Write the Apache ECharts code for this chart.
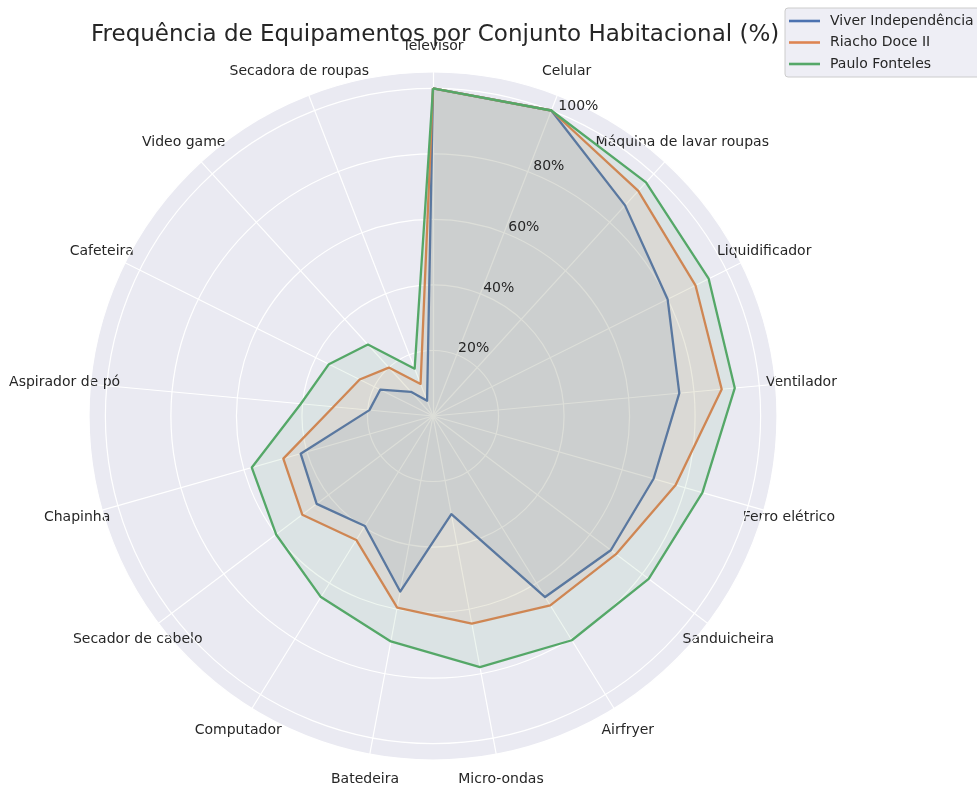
<!DOCTYPE html>
<html>
<head>
<meta charset="utf-8">
<script src="https://cdn.jsdelivr.net/npm/echarts@6/dist/echarts.min.js"></script>
<style>
html,body{margin:0;padding:0;background:#fff;}
#chart{width:977px;height:785px;}
</style>
</head>
<body>
<div id="chart"></div>
<script>
const categories = ['Televisor','Celular','Máquina de lavar roupas','Liquidificador','Ventilador','Ferro elétrico','Sanduicheira','Airfryer','Micro-ondas','Batedeira','Computador','Secador de cabelo','Chapinha','Aspirador de pó','Cafeteira','Video game','Secadora de roupas'];
const viverIndependencia = [100,100,87,80,75.5,70,68,65,30.5,54.5,39.5,44.5,42,19.5,18,10,5];
const riachoDoceII       = [100,100,93,89.5,88.5,77,70,68,64.5,59.5,44.5,50,47.5,30.5,25,20,10.5];
const pauloFonteles      = [100,100,96.5,94,92.5,85.5,82.5,80.5,78,70,65,60,57.5,40.5,35.5,29.5,15.5];
const seriesNames = ['Viver Independência','Riacho Doce II','Paulo Fonteles'];
const radialTicks = [20,40,60,80,100];
const titleText = 'Frequência de Equipamentos por Conjunto Habitacional (%)';

const colors = ['#4C72B0','#DD8452','#55A868'];
const RMAX = 105;
const CX = 433, CY = 416, R = 344;
const textColor = '#262626';

// ECharts radar runs counter-clockwise; reorder so categories run clockwise from top
const order = [0];
for (let i = categories.length - 1; i >= 1; i--) order.push(i);
const reorder = arr => order.map(i => arr[i]);

const allSeries = [viverIndependencia, riachoDoceII, pauloFonteles];

const chart = echarts.init(document.getElementById('chart'), null, {renderer:'canvas'});
chart.setOption({
  backgroundColor: '#ffffff',
  animation: false,
  title: {
    text: titleText,
    left: 91, top: 24, padding: 0,
    textStyle: {fontFamily: 'DejaVu Sans', fontSize: 23, fontWeight: 'normal', color: textColor}
  },
  legend: {
    data: seriesNames,
    orient: 'vertical',
    left: 785, top: 8,
    padding: [5, 12, 5, 4],
    itemGap: 5.5,
    itemWidth: 31, itemHeight: 2.6,
    icon: 'rect',
    backgroundColor: 'rgba(234,234,242,0.8)',
    borderColor: '#cccccc', borderWidth: 1, borderRadius: 3,
    textStyle: {fontFamily: 'DejaVu Sans', fontSize: 14, color: textColor, lineHeight: 16, padding: [0,0,0,5]}
  },
  radar: {
    center: [CX, CY],
    radius: R,
    startAngle: 90,
    shape: 'circle',
    splitNumber: 1,
    z: 0,
    indicator: reorder(categories).map(n => ({name: n, min: 0, max: RMAX})),
    axisName: {fontFamily: 'DejaVu Sans', fontSize: 14, color: textColor, align: 'center', verticalAlign: 'middle'},
    nameGap: 26,
    splitArea: {show: true, areaStyle: {color: ['#EAEAF2']}},
    splitLine: {show: false},
    axisLine: {show: true, lineStyle: {color: '#ffffff', width: 1.2}},
    axisTick: {show: false},
    axisLabel: {show: false}
  },
  polar: [
    {center: [CX, CY], radius: R},
    {center: [CX, CY], radius: R}
  ],
  angleAxis: [
    {polarIndex: 0, show: false, startAngle: 67.5, type: 'value', min: 0, max: 360},
    {polarIndex: 1, show: false, startAngle: 67.5, type: 'value', min: 0, max: 360}
  ],
  radiusAxis: [
    {
      polarIndex: 0, type: 'value', min: 0, max: RMAX, interval: 20, z: 1,
      axisLine: {show: false}, axisTick: {show: false}, axisLabel: {show: false},
      splitLine: {show: true, lineStyle: {color: '#ffffff', width: 1.2}}
    },
    {
      polarIndex: 1, type: 'value', min: 0, max: RMAX, interval: 20, z: 10,
      axisLine: {show: false}, axisTick: {show: false}, splitLine: {show: false},
      axisLabel: {
        show: true, margin: 0, align: 'left', verticalAlign: 'bottom',
        fontFamily: 'DejaVu Sans', fontSize: 14, color: textColor,
        formatter: v => radialTicks.indexOf(Math.round(v)) >= 0 ? Math.round(v) + '%' : ''
      }
    }
  ],
  series: [{
    type: 'radar',
    symbol: 'none',
    z: 2,
    data: allSeries.map((vals, k) => ({
      name: seriesNames[k],
      value: reorder(vals),
      lineStyle: {color: colors[k], width: 2.3},
      itemStyle: {color: colors[k]},
      areaStyle: {color: colors[k], opacity: 0.1}
    }))
  }]
});
</script>
</body>
</html>
